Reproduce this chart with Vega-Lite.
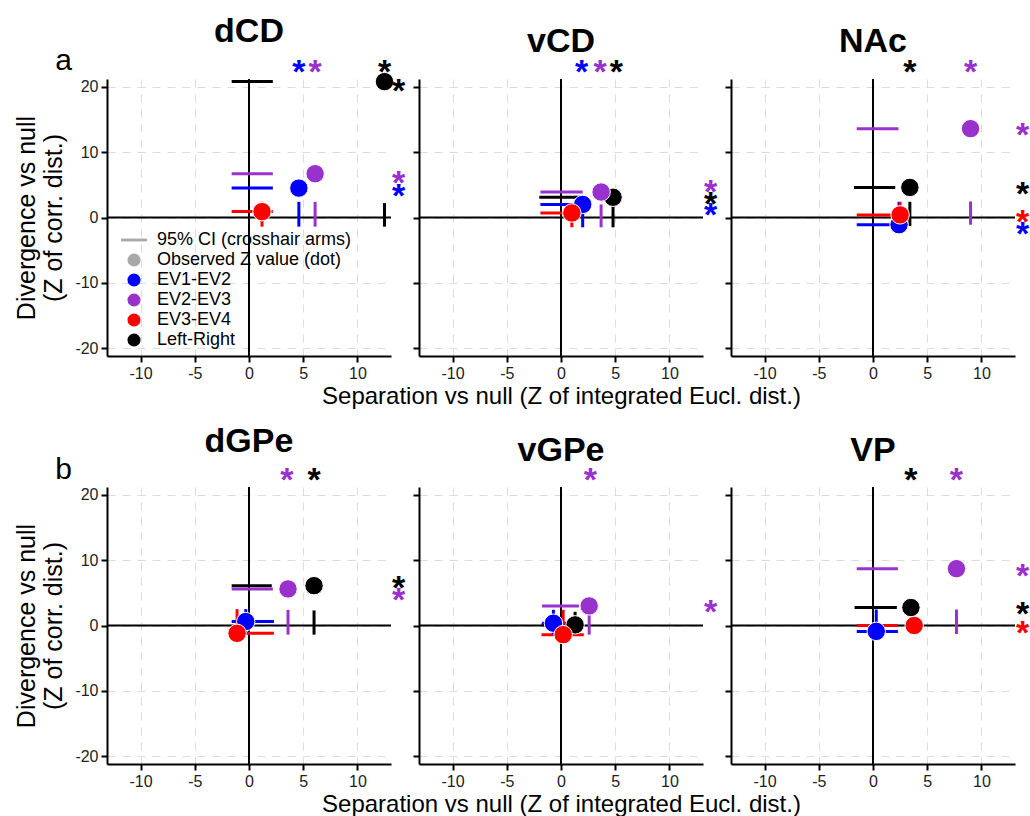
{
  "$schema": "https://vega.github.io/schema/vega-lite/v6.json",
  "padding": {"left": 14, "top": 15, "right": 0, "bottom": 0},
  "datasets": {
    "pts": [
      {"panel": "dCD", "group": "Left-Right", "x": 12.5, "y": 20.8, "xlo": -1.6, "xhi": 2.2, "ylo": -1.4, "yhi": 2.2},
      {"panel": "dCD", "group": "EV1-EV2", "x": 4.6, "y": 4.5, "xlo": -1.6, "xhi": 2.2, "ylo": -1.4, "yhi": 2.4},
      {"panel": "dCD", "group": "EV2-EV3", "x": 6.1, "y": 6.7, "xlo": -1.6, "xhi": 2.2, "ylo": -1.4, "yhi": 2.4},
      {"panel": "dCD", "group": "EV3-EV4", "x": 1.2, "y": 0.9, "xlo": -1.6, "xhi": 2.2, "ylo": -1.4, "yhi": 2.4},
      {"panel": "vCD", "group": "Left-Right", "x": 4.8, "y": 3.1, "xlo": -2.0, "xhi": 2.0, "ylo": -1.5, "yhi": 2.0},
      {"panel": "vCD", "group": "EV1-EV2", "x": 2.0, "y": 2.0, "xlo": -1.9, "xhi": 1.9, "ylo": -1.5, "yhi": 2.0},
      {"panel": "vCD", "group": "EV2-EV3", "x": 3.7, "y": 3.9, "xlo": -1.9, "xhi": 2.0, "ylo": -1.5, "yhi": 2.0},
      {"panel": "vCD", "group": "EV3-EV4", "x": 1.0, "y": 0.7, "xlo": -1.9, "xhi": 1.9, "ylo": -1.5, "yhi": 2.0},
      {"panel": "NAc", "group": "Left-Right", "x": 3.4, "y": 4.6, "xlo": -1.75, "xhi": 2.05, "ylo": -1.3, "yhi": 2.4},
      {"panel": "NAc", "group": "EV1-EV2", "x": 2.4, "y": -1.1, "xlo": -1.5, "xhi": 2.0, "ylo": -1.3, "yhi": 2.4},
      {"panel": "NAc", "group": "EV2-EV3", "x": 9.0, "y": 13.6, "xlo": -1.5, "xhi": 2.35, "ylo": -1.1, "yhi": 2.45},
      {"panel": "NAc", "group": "EV3-EV4", "x": 2.5, "y": 0.4, "xlo": -1.5, "xhi": 2.0, "ylo": -1.3, "yhi": 2.4},
      {"panel": "dGPe", "group": "Left-Right", "x": 6.0, "y": 6.1, "xlo": -1.6, "xhi": 2.1, "ylo": -1.4, "yhi": 2.3},
      {"panel": "dGPe", "group": "EV1-EV2", "x": -0.3, "y": 0.6, "xlo": -1.6, "xhi": 2.3, "ylo": -1.4, "yhi": 2.5},
      {"panel": "dGPe", "group": "EV2-EV3", "x": 3.6, "y": 5.6, "xlo": -1.6, "xhi": 2.2, "ylo": -1.4, "yhi": 2.4},
      {"panel": "dGPe", "group": "EV3-EV4", "x": -1.1, "y": -1.2, "xlo": -1.6, "xhi": 2.3, "ylo": -1.4, "yhi": 2.5},
      {"panel": "vGPe", "group": "Left-Right", "x": 1.3, "y": 0.1, "xlo": -1.8, "xhi": 2.0, "ylo": -1.4, "yhi": 2.1},
      {"panel": "vGPe", "group": "EV1-EV2", "x": -0.7, "y": 0.35, "xlo": -1.75, "xhi": 2.0, "ylo": -1.4, "yhi": 2.4},
      {"panel": "vGPe", "group": "EV2-EV3", "x": 2.6, "y": 3.0, "xlo": -1.75, "xhi": 1.65, "ylo": -1.4, "yhi": 2.3},
      {"panel": "vGPe", "group": "EV3-EV4", "x": 0.2, "y": -1.4, "xlo": -1.8, "xhi": 2.1, "ylo": -1.4, "yhi": 2.4},
      {"panel": "VP", "group": "Left-Right", "x": 3.5, "y": 2.75, "xlo": -1.7, "xhi": 2.2, "ylo": -1.3, "yhi": 2.4},
      {"panel": "VP", "group": "EV1-EV2", "x": 0.3, "y": -0.9, "xlo": -1.5, "xhi": 2.3, "ylo": -1.3, "yhi": 2.45},
      {"panel": "VP", "group": "EV2-EV3", "x": 7.7, "y": 8.7, "xlo": -1.5, "xhi": 2.3, "ylo": -1.3, "yhi": 2.45},
      {"panel": "VP", "group": "EV3-EV4", "x": 3.8, "y": 0.0, "xlo": -1.5, "xhi": 2.3, "ylo": -1.3, "yhi": 2.4}
    ],
    "stars": [
      {"panel": "dCD", "group": "EV1-EV2", "side": "top", "pos": 4.6},
      {"panel": "dCD", "group": "EV2-EV3", "side": "top", "pos": 6.1},
      {"panel": "dCD", "group": "Left-Right", "side": "top", "pos": 12.5},
      {"panel": "dCD", "group": "Left-Right", "side": "right", "pos": 20.4},
      {"panel": "dCD", "group": "EV2-EV3", "side": "right", "pos": 6.4},
      {"panel": "dCD", "group": "EV1-EV2", "side": "right", "pos": 4.3},
      {"panel": "vCD", "group": "EV1-EV2", "side": "top", "pos": 1.9},
      {"panel": "vCD", "group": "EV2-EV3", "side": "top", "pos": 3.6},
      {"panel": "vCD", "group": "Left-Right", "side": "top", "pos": 5.1},
      {"panel": "vCD", "group": "EV2-EV3", "side": "right", "pos": 5.0},
      {"panel": "vCD", "group": "Left-Right", "side": "right", "pos": 3.2},
      {"panel": "vCD", "group": "EV1-EV2", "side": "right", "pos": 1.4},
      {"panel": "NAc", "group": "Left-Right", "side": "top", "pos": 3.4},
      {"panel": "NAc", "group": "EV2-EV3", "side": "top", "pos": 9.0},
      {"panel": "NAc", "group": "EV2-EV3", "side": "right", "pos": 13.7},
      {"panel": "NAc", "group": "Left-Right", "side": "right", "pos": 4.7},
      {"panel": "NAc", "group": "EV3-EV4", "side": "right", "pos": 0.4},
      {"panel": "NAc", "group": "EV1-EV2", "side": "right", "pos": -1.4},
      {"panel": "dGPe", "group": "EV2-EV3", "side": "top", "pos": 3.5},
      {"panel": "dGPe", "group": "Left-Right", "side": "top", "pos": 6.0},
      {"panel": "dGPe", "group": "Left-Right", "side": "right", "pos": 6.8},
      {"panel": "dGPe", "group": "EV2-EV3", "side": "right", "pos": 5.0},
      {"panel": "vGPe", "group": "EV2-EV3", "side": "top", "pos": 2.7},
      {"panel": "vGPe", "group": "EV2-EV3", "side": "right", "pos": 3.1},
      {"panel": "VP", "group": "Left-Right", "side": "top", "pos": 3.5},
      {"panel": "VP", "group": "EV2-EV3", "side": "top", "pos": 7.7},
      {"panel": "VP", "group": "EV2-EV3", "side": "right", "pos": 8.7},
      {"panel": "VP", "group": "Left-Right", "side": "right", "pos": 2.8},
      {"panel": "VP", "group": "EV3-EV4", "side": "right", "pos": 0.0}
    ]
  },
  "spacing": 17,
  "resolve": {"scale": {"color": "independent", "shape": "independent", "fill": "independent", "stroke": "independent"}},
  "vconcat": [
    {
      "spacing": 28,
      "bounds": "flush",
      "resolve": {"scale": {"color": "independent", "shape": "independent", "fill": "independent", "stroke": "independent"}},
      "hconcat": [
        {
          "width": 284, "height": 277,
          "title": {"text": "dCD"},
          "layer": [
            {"data": {"values": [{}]}, "mark": {"type": "rule", "color": "black", "strokeWidth": 2},
             "encoding": {"x": {"datum": 0, "type": "quantitative"}, "y": {"datum": -21.2, "type": "quantitative"}, "y2": {"datum": 21.2}}},
            {"data": {"values": [{}]}, "mark": {"type": "rule", "color": "black", "strokeWidth": 2},
             "encoding": {"y": {"datum": 0, "type": "quantitative"}, "x": {"datum": -13.1, "type": "quantitative"}, "x2": {"datum": 13.1}}},
            {"data": {"name": "pts"}, "transform": [{"filter": "datum.panel === 'dCD'"}],
             "mark": {"type": "rule", "strokeWidth": 3},
             "encoding": {"x": {"field": "xlo", "type": "quantitative", "scale": {"domain": [-13.1, 13.1], "nice": false, "zero": false}, "axis": {"values": [-10, -5, 0, 5, 10], "title": null}},
                          "x2": {"field": "xhi"},
                          "y": {"field": "y", "type": "quantitative", "scale": {"domain": [-21.2, 21.2], "nice": false, "zero": false}, "axis": {"values": [-20, -15, -10, -5, 0, 5, 10, 15, 20], "title": ["Divergence vs null", "(Z of corr. dist.)"]}},
                          "stroke": {"field": "group", "type": "nominal", "scale": {"domain": ["EV1-EV2", "EV2-EV3", "EV3-EV4", "Left-Right"], "range": ["#0000ff", "#9932cc", "#ff0000", "#000000"]}, "legend": null}}},
            {"data": {"name": "pts"}, "transform": [{"filter": "datum.panel === 'dCD'"}],
             "mark": {"type": "rule", "strokeWidth": 3},
             "encoding": {"x": {"field": "x", "type": "quantitative"}, "y": {"field": "ylo", "type": "quantitative"}, "y2": {"field": "yhi"},
                          "stroke": {"field": "group", "type": "nominal", "legend": null}}},
            {"data": {"name": "pts"}, "transform": [{"filter": "datum.panel === 'dCD'"}],
             "mark": {"type": "point", "filled": true, "size": 340, "opacity": 1, "stroke": "white", "strokeWidth": 1},
             "encoding": {"x": {"field": "x", "type": "quantitative"}, "y": {"field": "y", "type": "quantitative"},
                          "color": {"field": "group", "type": "nominal", "scale": {"domain": ["95% CI (crosshair arms)", "Observed Z value (dot)", "EV1-EV2", "EV2-EV3", "EV3-EV4", "Left-Right"], "range": ["#a8a8a8", "#a8a8a8", "#0000ff", "#9932cc", "#ff0000", "#000000"]},
                                    "legend": {"title": null, "orient": "none", "legendX": 18, "legendY": 152}},
                          "shape": {"field": "group", "type": "nominal", "scale": {"domain": ["95% CI (crosshair arms)", "Observed Z value (dot)", "EV1-EV2", "EV2-EV3", "EV3-EV4", "Left-Right"], "range": ["M-2,-0.22H2V0.22H-2Z", "circle", "circle", "circle", "circle", "circle"]},
                                    "legend": {"title": null, "orient": "none", "legendX": 18, "legendY": 152}}}},
            {"data": {"name": "stars"}, "transform": [{"filter": "datum.panel === 'dCD' && datum.side === 'top'"}],
             "mark": {"type": "text", "fontSize": 34, "fontWeight": "bold", "baseline": "alphabetic", "dy": 18, "align": "center"},
             "encoding": {"x": {"field": "pos", "type": "quantitative"}, "y": {"datum": 23.3, "type": "quantitative"},
                          "fill": {"field": "group", "type": "nominal", "scale": {"domain": ["EV1-EV2", "EV2-EV3", "EV3-EV4", "Left-Right"], "range": ["#0000ff", "#9932cc", "#ff0000", "#000000"]}, "legend": null}, "text": {"value": "*"}}},
            {"data": {"name": "stars"}, "transform": [{"filter": "datum.panel === 'dCD' && datum.side === 'right'"}],
             "mark": {"type": "text", "fontSize": 34, "fontWeight": "bold", "baseline": "alphabetic", "dy": 18, "align": "center"},
             "encoding": {"y": {"field": "pos", "type": "quantitative"}, "x": {"datum": 13.8, "type": "quantitative"},
                          "fill": {"field": "group", "type": "nominal", "legend": null}, "text": {"value": "*"}}},
            {"data": {"values": [{"label": "a"}]},
             "mark": {"type": "text", "fontSize": 30, "baseline": "alphabetic", "align": "center", "color": "black"},
             "encoding": {"x": {"datum": -17.1, "type": "quantitative"}, "y": {"datum": 22.55, "type": "quantitative"}, "text": {"field": "label"}}}
          ]
        },
        {
          "width": 284, "height": 277,
          "title": {"text": "vCD"},
          "layer": [
            {"data": {"values": [{}]}, "mark": {"type": "rule", "color": "black", "strokeWidth": 2},
             "encoding": {"x": {"datum": 0, "type": "quantitative"}, "y": {"datum": -21.2, "type": "quantitative"}, "y2": {"datum": 21.2}}},
            {"data": {"values": [{}]}, "mark": {"type": "rule", "color": "black", "strokeWidth": 2},
             "encoding": {"y": {"datum": 0, "type": "quantitative"}, "x": {"datum": -13.1, "type": "quantitative"}, "x2": {"datum": 13.1}}},
            {"data": {"name": "pts"}, "transform": [{"filter": "datum.panel === 'vCD'"}],
             "mark": {"type": "rule", "strokeWidth": 3},
             "encoding": {"x": {"field": "xlo", "type": "quantitative", "scale": {"domain": [-13.1, 13.1], "nice": false, "zero": false}, "axis": {"values": [-10, -5, 0, 5, 10], "title": "Separation vs null (Z of integrated Eucl. dist.)"}},
                          "x2": {"field": "xhi"},
                          "y": {"field": "y", "type": "quantitative", "scale": {"domain": [-21.2, 21.2], "nice": false, "zero": false}, "axis": {"values": [-20, -15, -10, -5, 0, 5, 10, 15, 20], "labels": false, "title": null}},
                          "stroke": {"field": "group", "type": "nominal", "scale": {"domain": ["EV1-EV2", "EV2-EV3", "EV3-EV4", "Left-Right"], "range": ["#0000ff", "#9932cc", "#ff0000", "#000000"]}, "legend": null}}},
            {"data": {"name": "pts"}, "transform": [{"filter": "datum.panel === 'vCD'"}],
             "mark": {"type": "rule", "strokeWidth": 3},
             "encoding": {"x": {"field": "x", "type": "quantitative"}, "y": {"field": "ylo", "type": "quantitative"}, "y2": {"field": "yhi"},
                          "stroke": {"field": "group", "type": "nominal", "legend": null}}},
            {"data": {"name": "pts"}, "transform": [{"filter": "datum.panel === 'vCD'"}],
             "mark": {"type": "point", "shape": "circle", "filled": true, "size": 340, "opacity": 1, "stroke": "white", "strokeWidth": 1},
             "encoding": {"x": {"field": "x", "type": "quantitative"}, "y": {"field": "y", "type": "quantitative"},
                          "color": {"field": "group", "type": "nominal", "scale": {"domain": ["EV1-EV2", "EV2-EV3", "EV3-EV4", "Left-Right"], "range": ["#0000ff", "#9932cc", "#ff0000", "#000000"]}, "legend": null}}},
            {"data": {"name": "stars"}, "transform": [{"filter": "datum.panel === 'vCD' && datum.side === 'top'"}],
             "mark": {"type": "text", "fontSize": 34, "fontWeight": "bold", "baseline": "alphabetic", "dy": 18, "align": "center"},
             "encoding": {"x": {"field": "pos", "type": "quantitative"}, "y": {"datum": 23.3, "type": "quantitative"},
                          "fill": {"field": "group", "type": "nominal", "scale": {"domain": ["EV1-EV2", "EV2-EV3", "EV3-EV4", "Left-Right"], "range": ["#0000ff", "#9932cc", "#ff0000", "#000000"]}, "legend": null}, "text": {"value": "*"}}},
            {"data": {"name": "stars"}, "transform": [{"filter": "datum.panel === 'vCD' && datum.side === 'right'"}],
             "mark": {"type": "text", "fontSize": 34, "fontWeight": "bold", "baseline": "alphabetic", "dy": 18, "align": "center"},
             "encoding": {"y": {"field": "pos", "type": "quantitative"}, "x": {"datum": 13.8, "type": "quantitative"},
                          "fill": {"field": "group", "type": "nominal", "legend": null}, "text": {"value": "*"}}}
          ]
        },
        {
          "width": 284, "height": 277,
          "title": {"text": "NAc"},
          "layer": [
            {"data": {"values": [{}]}, "mark": {"type": "rule", "color": "black", "strokeWidth": 2},
             "encoding": {"x": {"datum": 0, "type": "quantitative"}, "y": {"datum": -21.2, "type": "quantitative"}, "y2": {"datum": 21.2}}},
            {"data": {"values": [{}]}, "mark": {"type": "rule", "color": "black", "strokeWidth": 2},
             "encoding": {"y": {"datum": 0, "type": "quantitative"}, "x": {"datum": -13.1, "type": "quantitative"}, "x2": {"datum": 13.1}}},
            {"data": {"name": "pts"}, "transform": [{"filter": "datum.panel === 'NAc'"}],
             "mark": {"type": "rule", "strokeWidth": 3},
             "encoding": {"x": {"field": "xlo", "type": "quantitative", "scale": {"domain": [-13.1, 13.1], "nice": false, "zero": false}, "axis": {"values": [-10, -5, 0, 5, 10], "title": null}},
                          "x2": {"field": "xhi"},
                          "y": {"field": "y", "type": "quantitative", "scale": {"domain": [-21.2, 21.2], "nice": false, "zero": false}, "axis": {"values": [-20, -15, -10, -5, 0, 5, 10, 15, 20], "labels": false, "title": null}},
                          "stroke": {"field": "group", "type": "nominal", "scale": {"domain": ["EV1-EV2", "EV2-EV3", "EV3-EV4", "Left-Right"], "range": ["#0000ff", "#9932cc", "#ff0000", "#000000"]}, "legend": null}}},
            {"data": {"name": "pts"}, "transform": [{"filter": "datum.panel === 'NAc'"}],
             "mark": {"type": "rule", "strokeWidth": 3},
             "encoding": {"x": {"field": "x", "type": "quantitative"}, "y": {"field": "ylo", "type": "quantitative"}, "y2": {"field": "yhi"},
                          "stroke": {"field": "group", "type": "nominal", "legend": null}}},
            {"data": {"name": "pts"}, "transform": [{"filter": "datum.panel === 'NAc'"}],
             "mark": {"type": "point", "shape": "circle", "filled": true, "size": 340, "opacity": 1, "stroke": "white", "strokeWidth": 1},
             "encoding": {"x": {"field": "x", "type": "quantitative"}, "y": {"field": "y", "type": "quantitative"},
                          "color": {"field": "group", "type": "nominal", "scale": {"domain": ["EV1-EV2", "EV2-EV3", "EV3-EV4", "Left-Right"], "range": ["#0000ff", "#9932cc", "#ff0000", "#000000"]}, "legend": null}}},
            {"data": {"name": "stars"}, "transform": [{"filter": "datum.panel === 'NAc' && datum.side === 'top'"}],
             "mark": {"type": "text", "fontSize": 34, "fontWeight": "bold", "baseline": "alphabetic", "dy": 18, "align": "center"},
             "encoding": {"x": {"field": "pos", "type": "quantitative"}, "y": {"datum": 23.3, "type": "quantitative"},
                          "fill": {"field": "group", "type": "nominal", "scale": {"domain": ["EV1-EV2", "EV2-EV3", "EV3-EV4", "Left-Right"], "range": ["#0000ff", "#9932cc", "#ff0000", "#000000"]}, "legend": null}, "text": {"value": "*"}}},
            {"data": {"name": "stars"}, "transform": [{"filter": "datum.panel === 'NAc' && datum.side === 'right'"}],
             "mark": {"type": "text", "fontSize": 34, "fontWeight": "bold", "baseline": "alphabetic", "dy": 18, "align": "center"},
             "encoding": {"y": {"field": "pos", "type": "quantitative"}, "x": {"datum": 13.8, "type": "quantitative"},
                          "fill": {"field": "group", "type": "nominal", "legend": null}, "text": {"value": "*"}}}
          ]
        }
      ]
    },
    {
      "spacing": 28,
      "bounds": "flush",
      "resolve": {"scale": {"color": "independent", "shape": "independent", "fill": "independent", "stroke": "independent"}},
      "hconcat": [
        {
          "width": 284, "height": 277,
          "title": {"text": "dGPe", "offset": -4},
          "layer": [
            {"data": {"values": [{}]}, "mark": {"type": "rule", "color": "black", "strokeWidth": 2},
             "encoding": {"x": {"datum": 0, "type": "quantitative"}, "y": {"datum": -21.2, "type": "quantitative"}, "y2": {"datum": 21.2}}},
            {"data": {"values": [{}]}, "mark": {"type": "rule", "color": "black", "strokeWidth": 2},
             "encoding": {"y": {"datum": 0, "type": "quantitative"}, "x": {"datum": -13.1, "type": "quantitative"}, "x2": {"datum": 13.1}}},
            {"data": {"name": "pts"}, "transform": [{"filter": "datum.panel === 'dGPe'"}],
             "mark": {"type": "rule", "strokeWidth": 3},
             "encoding": {"x": {"field": "xlo", "type": "quantitative", "scale": {"domain": [-13.1, 13.1], "nice": false, "zero": false}, "axis": {"values": [-10, -5, 0, 5, 10], "title": null}},
                          "x2": {"field": "xhi"},
                          "y": {"field": "y", "type": "quantitative", "scale": {"domain": [-21.2, 21.2], "nice": false, "zero": false}, "axis": {"values": [-20, -15, -10, -5, 0, 5, 10, 15, 20], "title": ["Divergence vs null", "(Z of corr. dist.)"]}},
                          "stroke": {"field": "group", "type": "nominal", "scale": {"domain": ["EV1-EV2", "EV2-EV3", "EV3-EV4", "Left-Right"], "range": ["#0000ff", "#9932cc", "#ff0000", "#000000"]}, "legend": null}}},
            {"data": {"name": "pts"}, "transform": [{"filter": "datum.panel === 'dGPe'"}],
             "mark": {"type": "rule", "strokeWidth": 3},
             "encoding": {"x": {"field": "x", "type": "quantitative"}, "y": {"field": "ylo", "type": "quantitative"}, "y2": {"field": "yhi"},
                          "stroke": {"field": "group", "type": "nominal", "legend": null}}},
            {"data": {"name": "pts"}, "transform": [{"filter": "datum.panel === 'dGPe'"}],
             "mark": {"type": "point", "shape": "circle", "filled": true, "size": 340, "opacity": 1, "stroke": "white", "strokeWidth": 1},
             "encoding": {"x": {"field": "x", "type": "quantitative"}, "y": {"field": "y", "type": "quantitative"},
                          "color": {"field": "group", "type": "nominal", "scale": {"domain": ["EV1-EV2", "EV2-EV3", "EV3-EV4", "Left-Right"], "range": ["#0000ff", "#9932cc", "#ff0000", "#000000"]}, "legend": null}}},
            {"data": {"name": "stars"}, "transform": [{"filter": "datum.panel === 'dGPe' && datum.side === 'top'"}],
             "mark": {"type": "text", "fontSize": 34, "fontWeight": "bold", "baseline": "alphabetic", "dy": 18, "align": "center"},
             "encoding": {"x": {"field": "pos", "type": "quantitative"}, "y": {"datum": 23.3, "type": "quantitative"},
                          "fill": {"field": "group", "type": "nominal", "scale": {"domain": ["EV1-EV2", "EV2-EV3", "EV3-EV4", "Left-Right"], "range": ["#0000ff", "#9932cc", "#ff0000", "#000000"]}, "legend": null}, "text": {"value": "*"}}},
            {"data": {"name": "stars"}, "transform": [{"filter": "datum.panel === 'dGPe' && datum.side === 'right'"}],
             "mark": {"type": "text", "fontSize": 34, "fontWeight": "bold", "baseline": "alphabetic", "dy": 18, "align": "center"},
             "encoding": {"y": {"field": "pos", "type": "quantitative"}, "x": {"datum": 13.8, "type": "quantitative"},
                          "fill": {"field": "group", "type": "nominal", "legend": null}, "text": {"value": "*"}}},
            {"data": {"values": [{"label": "b"}]},
             "mark": {"type": "text", "fontSize": 30, "baseline": "alphabetic", "align": "center", "color": "black"},
             "encoding": {"x": {"datum": -17.1, "type": "quantitative"}, "y": {"datum": 22.4, "type": "quantitative"}, "text": {"field": "label"}}}
          ]
        },
        {
          "width": 284, "height": 277,
          "title": {"text": "vGPe", "offset": -4},
          "layer": [
            {"data": {"values": [{}]}, "mark": {"type": "rule", "color": "black", "strokeWidth": 2},
             "encoding": {"x": {"datum": 0, "type": "quantitative"}, "y": {"datum": -21.2, "type": "quantitative"}, "y2": {"datum": 21.2}}},
            {"data": {"values": [{}]}, "mark": {"type": "rule", "color": "black", "strokeWidth": 2},
             "encoding": {"y": {"datum": 0, "type": "quantitative"}, "x": {"datum": -13.1, "type": "quantitative"}, "x2": {"datum": 13.1}}},
            {"data": {"name": "pts"}, "transform": [{"filter": "datum.panel === 'vGPe'"}],
             "mark": {"type": "rule", "strokeWidth": 3},
             "encoding": {"x": {"field": "xlo", "type": "quantitative", "scale": {"domain": [-13.1, 13.1], "nice": false, "zero": false}, "axis": {"values": [-10, -5, 0, 5, 10], "title": "Separation vs null (Z of integrated Eucl. dist.)"}},
                          "x2": {"field": "xhi"},
                          "y": {"field": "y", "type": "quantitative", "scale": {"domain": [-21.2, 21.2], "nice": false, "zero": false}, "axis": {"values": [-20, -15, -10, -5, 0, 5, 10, 15, 20], "labels": false, "title": null}},
                          "stroke": {"field": "group", "type": "nominal", "scale": {"domain": ["EV1-EV2", "EV2-EV3", "EV3-EV4", "Left-Right"], "range": ["#0000ff", "#9932cc", "#ff0000", "#000000"]}, "legend": null}}},
            {"data": {"name": "pts"}, "transform": [{"filter": "datum.panel === 'vGPe'"}],
             "mark": {"type": "rule", "strokeWidth": 3},
             "encoding": {"x": {"field": "x", "type": "quantitative"}, "y": {"field": "ylo", "type": "quantitative"}, "y2": {"field": "yhi"},
                          "stroke": {"field": "group", "type": "nominal", "legend": null}}},
            {"data": {"name": "pts"}, "transform": [{"filter": "datum.panel === 'vGPe'"}],
             "mark": {"type": "point", "shape": "circle", "filled": true, "size": 340, "opacity": 1, "stroke": "white", "strokeWidth": 1},
             "encoding": {"x": {"field": "x", "type": "quantitative"}, "y": {"field": "y", "type": "quantitative"},
                          "color": {"field": "group", "type": "nominal", "scale": {"domain": ["EV1-EV2", "EV2-EV3", "EV3-EV4", "Left-Right"], "range": ["#0000ff", "#9932cc", "#ff0000", "#000000"]}, "legend": null}}},
            {"data": {"name": "stars"}, "transform": [{"filter": "datum.panel === 'vGPe' && datum.side === 'top'"}],
             "mark": {"type": "text", "fontSize": 34, "fontWeight": "bold", "baseline": "alphabetic", "dy": 18, "align": "center"},
             "encoding": {"x": {"field": "pos", "type": "quantitative"}, "y": {"datum": 23.3, "type": "quantitative"},
                          "fill": {"field": "group", "type": "nominal", "scale": {"domain": ["EV1-EV2", "EV2-EV3", "EV3-EV4", "Left-Right"], "range": ["#0000ff", "#9932cc", "#ff0000", "#000000"]}, "legend": null}, "text": {"value": "*"}}},
            {"data": {"name": "stars"}, "transform": [{"filter": "datum.panel === 'vGPe' && datum.side === 'right'"}],
             "mark": {"type": "text", "fontSize": 34, "fontWeight": "bold", "baseline": "alphabetic", "dy": 18, "align": "center"},
             "encoding": {"y": {"field": "pos", "type": "quantitative"}, "x": {"datum": 13.8, "type": "quantitative"},
                          "fill": {"field": "group", "type": "nominal", "legend": null}, "text": {"value": "*"}}}
          ]
        },
        {
          "width": 284, "height": 277,
          "title": {"text": "VP", "offset": -4},
          "layer": [
            {"data": {"values": [{}]}, "mark": {"type": "rule", "color": "black", "strokeWidth": 2},
             "encoding": {"x": {"datum": 0, "type": "quantitative"}, "y": {"datum": -21.2, "type": "quantitative"}, "y2": {"datum": 21.2}}},
            {"data": {"values": [{}]}, "mark": {"type": "rule", "color": "black", "strokeWidth": 2},
             "encoding": {"y": {"datum": 0, "type": "quantitative"}, "x": {"datum": -13.1, "type": "quantitative"}, "x2": {"datum": 13.1}}},
            {"data": {"name": "pts"}, "transform": [{"filter": "datum.panel === 'VP'"}],
             "mark": {"type": "rule", "strokeWidth": 3},
             "encoding": {"x": {"field": "xlo", "type": "quantitative", "scale": {"domain": [-13.1, 13.1], "nice": false, "zero": false}, "axis": {"values": [-10, -5, 0, 5, 10], "title": null}},
                          "x2": {"field": "xhi"},
                          "y": {"field": "y", "type": "quantitative", "scale": {"domain": [-21.2, 21.2], "nice": false, "zero": false}, "axis": {"values": [-20, -15, -10, -5, 0, 5, 10, 15, 20], "labels": false, "title": null}},
                          "stroke": {"field": "group", "type": "nominal", "scale": {"domain": ["EV1-EV2", "EV2-EV3", "EV3-EV4", "Left-Right"], "range": ["#0000ff", "#9932cc", "#ff0000", "#000000"]}, "legend": null}}},
            {"data": {"name": "pts"}, "transform": [{"filter": "datum.panel === 'VP'"}],
             "mark": {"type": "rule", "strokeWidth": 3},
             "encoding": {"x": {"field": "x", "type": "quantitative"}, "y": {"field": "ylo", "type": "quantitative"}, "y2": {"field": "yhi"},
                          "stroke": {"field": "group", "type": "nominal", "legend": null}}},
            {"data": {"name": "pts"}, "transform": [{"filter": "datum.panel === 'VP'"}],
             "mark": {"type": "point", "shape": "circle", "filled": true, "size": 340, "opacity": 1, "stroke": "white", "strokeWidth": 1},
             "encoding": {"x": {"field": "x", "type": "quantitative"}, "y": {"field": "y", "type": "quantitative"},
                          "color": {"field": "group", "type": "nominal", "scale": {"domain": ["EV1-EV2", "EV2-EV3", "EV3-EV4", "Left-Right"], "range": ["#0000ff", "#9932cc", "#ff0000", "#000000"]}, "legend": null}}},
            {"data": {"name": "stars"}, "transform": [{"filter": "datum.panel === 'VP' && datum.side === 'top'"}],
             "mark": {"type": "text", "fontSize": 34, "fontWeight": "bold", "baseline": "alphabetic", "dy": 18, "align": "center"},
             "encoding": {"x": {"field": "pos", "type": "quantitative"}, "y": {"datum": 23.3, "type": "quantitative"},
                          "fill": {"field": "group", "type": "nominal", "scale": {"domain": ["EV1-EV2", "EV2-EV3", "EV3-EV4", "Left-Right"], "range": ["#0000ff", "#9932cc", "#ff0000", "#000000"]}, "legend": null}, "text": {"value": "*"}}},
            {"data": {"name": "stars"}, "transform": [{"filter": "datum.panel === 'VP' && datum.side === 'right'"}],
             "mark": {"type": "text", "fontSize": 34, "fontWeight": "bold", "baseline": "alphabetic", "dy": 18, "align": "center"},
             "encoding": {"y": {"field": "pos", "type": "quantitative"}, "x": {"datum": 13.8, "type": "quantitative"},
                          "fill": {"field": "group", "type": "nominal", "legend": null}, "text": {"value": "*"}}}
          ]
        }
      ]
    }
  ],
  "config": {
    "font": "Liberation Sans",
    "view": {"stroke": null},
    "axis": {
      "domainColor": "black", "domainWidth": 2,
      "tickColor": "black", "tickWidth": 2, "tickSize": 6,
      "labelFont": "Liberation Sans", "labelFontSize": 16, "labelColor": "#222222", "labelPadding": 3,
      "labelExpr": "'' + datum.value",
      "grid": true, "gridColor": "#dcdcdc", "gridDash": [8, 7], "gridWidth": 1,
      "titleFont": "Liberation Sans", "titleFontSize": 24, "titleFontWeight": "normal", "titleColor": "black", "titlePadding": 3
    },
    "axisY": {"titleFontSize": 25, "titleLineHeight": 27, "titlePadding": 8},
    "legend": {
      "labelFont": "Liberation Sans", "labelFontSize": 18, "labelColor": "black", "labelLimit": 0, "labelOffset": 14,
      "symbolSize": 170, "symbolStrokeWidth": 0, "rowPadding": 2, "padding": 0
    },
    "title": {"font": "Liberation Sans", "fontSize": 34, "fontWeight": "bold", "color": "black", "frame": "group", "anchor": "middle", "baseline": "alphabetic", "offset": -3}
  }
}
